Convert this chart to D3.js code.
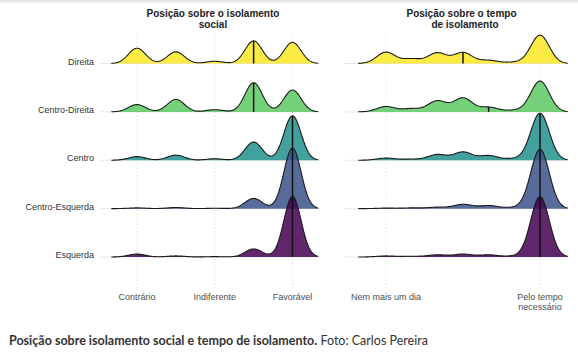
<!DOCTYPE html>
<html>
<head>
<meta charset="utf-8">
<script src="https://cdn.jsdelivr.net/npm/d3@7"></script>
<style>
  body { margin: 0; background: #fff; }
  svg { display: block; font-family: "Liberation Sans", Arial, sans-serif; }
</style>
</head>
<body>
<div id="chart"></div>
<script>
// groups, top to bottom
const groups = ["Direita", "Centro-Direita", "Centro", "Centro-Esquerda", "Esquerda"];
const ridgeColors = ["#FDE725", "#5DC863", "#21908C", "#3B528B", "#440154"];

// left panel: posição sobre o isolamento (1..5), % of answers per level
const isolLevels = [1, 2, 3, 4, 5];
const isolTickValues = [1, 3, 5];
const isolTickLabels = [["Contrário"], ["Indiferente"], ["Favorável"]];
const isolShares = [
  [21, 16, 3, 31, 29],
  [10, 17, 3, 40, 30],
  [5, 7, 2, 25, 61],
  [1, 1.5, 0.5, 14, 83],
  [4, 1.5, 0.5, 11, 83]
];

// right panel: tempo de isolamento (1..7)
const timeLevels = [1, 2, 3, 4, 5, 6, 7];
const timeTickValues = [1, 7];
const timeTickLabels = [["Nem mais um dia"], ["Pelo tempo", "necessário"]];
const timeShares = [
  [16, 6.5, 15, 15.5, 4.5, 1.8, 40],
  [7.5, 4.5, 15.5, 19.5, 6.5, 2.2, 43.5],
  [3, 1.5, 8, 11.5, 6.5, 2.2, 66],
  [0.7, 1, 2, 6, 4.3, 1.5, 83],
  [1.5, 1, 3, 4, 3, 1.2, 85]
];

const width = 578, height = 361;

const svg = d3.select("#chart")
  .append("svg")
  .attr("width", width)
  .attr("height", height);

// faint page shadow at the top
const defs = svg.append("defs");
const grad = defs.append("linearGradient")
  .attr("id", "topShade")
  .attr("x1", 0).attr("y1", 0).attr("x2", 0).attr("y2", 1);
grad.append("stop").attr("offset", "0%").attr("stop-color", "#dcdcdc");
grad.append("stop").attr("offset", "100%").attr("stop-color", "#fff");
svg.append("rect")
  .attr("width", width)
  .attr("height", 4)
  .attr("fill", "url(#topShade)");

const y = d3.scalePoint()
  .domain(groups)
  .range([63.5, 257]);

const ridgeHeight = 60.5; // tallest ridge in each panel

const gauss = u => Math.exp(-0.5 * u * u) / Math.sqrt(2 * Math.PI);

// kernel density of the answers of one group
function density(levels, shares, bw, xv) {
  const total = d3.sum(shares);
  return d3.sum(levels, (l, i) => shares[i] * gauss((xv - l) / bw)) / (bw * total);
}

function weightedMedian(levels, shares) {
  const total = d3.sum(shares);
  let acc = 0;
  for (let i = 0; i < levels.length; i++) {
    acc += shares[i];
    if (acc >= total / 2) return levels[i];
  }
  return levels[levels.length - 1];
}

const panels = [
  {
    title: [["Posição sobre o isolamento", 213], ["social", 213]],
    levels: isolLevels, shares: isolShares, bw: 0.22,
    x: d3.scaleLinear().domain([1, 5]).range([137, 292.5]),
    grid: [100, 320],
    tickValues: isolTickValues, tickLabels: isolTickLabels
  },
  {
    title: [["Posição sobre o tempo", 461.5], ["de isolamento", 465]],
    levels: timeLevels, shares: timeShares, bw: 0.36,
    x: d3.scaleLinear().domain([1, 7]).range([386, 540]),
    grid: [345, 568],
    tickValues: timeTickValues, tickLabels: timeTickLabels
  }
];

panels.forEach(p => {
  const g = svg.append("g");
  const lo = d3.min(p.levels) - 3 * p.bw;
  const hi = d3.max(p.levels) + 3 * p.bw;
  const xs = d3.range(0, 241).map(i => lo + (hi - lo) * i / 240);

  const curves = p.shares.map(s => xs.map(xv => [xv, density(p.levels, s, p.bw, xv)]));
  const maxD = d3.max(curves, c => d3.max(c, d => d[1]));
  const h = d3.scaleLinear().domain([0, maxD]).range([0, ridgeHeight]);

  // horizontal baselines
  g.selectAll("line.base")
    .data(groups)
    .enter()
    .append("line")
    .attr("class", "base")
    .attr("x1", p.grid[0])
    .attr("x2", p.grid[1])
    .attr("y1", d => y(d))
    .attr("y2", d => y(d))
    .attr("stroke", "#e6e6e6")
    .attr("stroke-width", 1);

  // vertical dotted grid at the ticks
  g.selectAll("line.vgrid")
    .data(p.tickValues)
    .enter()
    .append("line")
    .attr("class", "vgrid")
    .attr("x1", d => p.x(d))
    .attr("x2", d => p.x(d))
    .attr("y1", 35)
    .attr("y2", 289)
    .attr("stroke", "#cfcfcf")
    .attr("stroke-width", 0.8)
    .attr("stroke-dasharray", "1,2.5");

  // ridges, top one first so lower ones sit in front
  groups.forEach((grp, gi) => {
    const base = y(grp);
    const area = d3.area()
      .x(d => p.x(d[0]))
      .y0(base)
      .y1(d => base - h(d[1]));
    const line = d3.line()
      .x(d => p.x(d[0]))
      .y(d => base - h(d[1]));

    g.append("path")
      .datum(curves[gi])
      .attr("d", area)
      .attr("fill", ridgeColors[gi])
      .attr("fill-opacity", 0.85);

    const med = weightedMedian(p.levels, p.shares[gi]);
    g.append("line")
      .attr("x1", p.x(med))
      .attr("x2", p.x(med))
      .attr("y1", base)
      .attr("y2", base - h(density(p.levels, p.shares[gi], p.bw, med)))
      .attr("stroke", "#111")
      .attr("stroke-width", 1.5);

    g.append("path")
      .datum(curves[gi])
      .attr("d", line)
      .attr("fill", "none")
      .attr("stroke", "#1a1a1a")
      .attr("stroke-width", 1.1);
  });

  // tick labels
  p.tickValues.forEach((v, i) => {
    const t = g.append("text")
      .attr("x", p.x(v))
      .attr("y", 300)
      .attr("text-anchor", "middle")
      .attr("font-size", 9)
      .attr("fill", "#4d4d4d");
    p.tickLabels[i].forEach((s, k) => {
      t.append("tspan")
        .attr("x", p.x(v))
        .attr("dy", k === 0 ? 0 : 10)
        .text(s);
    });
  });

  // panel title
  p.title.forEach((tl, k) => {
    g.append("text")
      .attr("x", tl[1])
      .attr("y", 16.5 + k * 11)
      .attr("text-anchor", "middle")
      .attr("font-size", 10)
      .attr("font-weight", "bold")
      .attr("fill", "#222")
      .text(tl[0]);
  });
});

// group labels
svg.selectAll("text.grp")
  .data(groups)
  .enter()
  .append("text")
  .attr("class", "grp")
  .attr("x", 94)
  .attr("y", d => y(d) - 2)
  .attr("dy", "0.35em")
  .attr("text-anchor", "end")
  .attr("font-size", 9)
  .attr("fill", "#333")
  .text(d => d);

// caption
const cap = svg.append("text")
  .attr("x", 9)
  .attr("y", 345)
  .attr("font-family", "Lato, 'Open Sans', sans-serif")
  .attr("font-size", 12.5)
  .attr("fill", "#333");
cap.append("tspan")
  .attr("font-weight", "bold")
  .text("Posição sobre isolamento social e tempo de isolamento.");
cap.append("tspan")
  .text(" Foto: Carlos Pereira");
</script>
</body>
</html>
